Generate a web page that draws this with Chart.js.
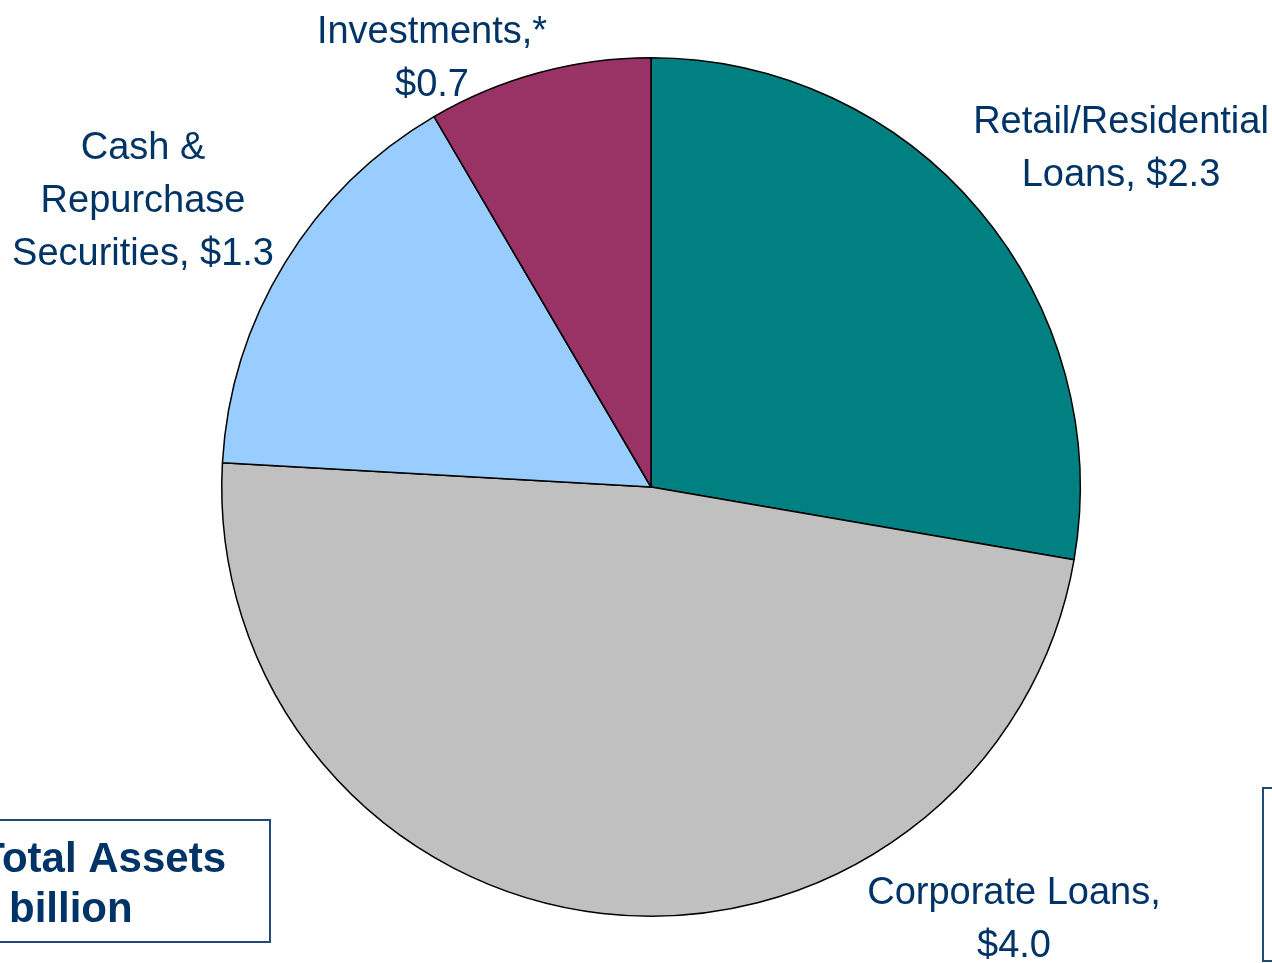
<!DOCTYPE html>
<html>
<head>
<meta charset="utf-8">
<script src="https://cdn.jsdelivr.net/npm/chart.js@4.4.1/dist/chart.umd.min.js"></script>
<style>
  html, body { margin: 0; padding: 0; background: #ffffff; overflow: hidden; }
  #wrap { width: 1272px; height: 963px; position: relative; }
</style>
</head>
<body>
<div id="wrap"><canvas id="assetChart" width="1272" height="963"></canvas></div>
<script>
// Asset mix, $ billions, clockwise from 12 o'clock
const categories = ['Retail/Residential Loans', 'Corporate Loans', 'Cash & Repurchase Securities', 'Investments,*'];
const values = [2.3, 4.0, 1.3, 0.7];
const sliceColors = ['#008080', '#c0c0c0', '#99ccff', '#993366'];

// Label text per slice, {v} is replaced by the formatted value
const labelLines = [
    ['Retail/Residential', 'Loans, {v}'],
    ['Corporate Loans,', '{v}'],
    ['Cash &', 'Repurchase', 'Securities, {v}'],
    ['Investments,*', '{v}']
];
// Centre x and first baseline for each label block
const labelAnchors = [
    { x: 1121, y: 133 },
    { x: 1014, y: 904 },
    { x: 143, y: 159 },
    { x: 432, y: 43 }
];

const textColor = '#003366';
const boxColor = '#1f4a7a';

function formatValue(v) {
    return '$' + v.toFixed(1);
}

const annotations = {
    id: 'annotations',
    afterDraw(chart) {
        const ctx = chart.ctx;
        const data = chart.data.datasets[0].data;
        ctx.save();
        ctx.fillStyle = textColor;
        ctx.textAlign = 'center';
        ctx.textBaseline = 'alphabetic';
        ctx.font = '38px "Liberation Sans", Arial, sans-serif';
        labelLines.forEach((lines, i) => {
            const anchor = labelAnchors[i];
            lines.forEach((line, j) => {
                const text = line.replace('{v}', formatValue(data[i]));
                ctx.fillText(text, anchor.x, anchor.y + j * 53);
            });
        });

        // total assets box, bottom left
        ctx.strokeStyle = boxColor;
        ctx.lineWidth = 2;
        ctx.strokeRect(-40, 820, 310, 122);
        ctx.font = 'bold 42px "Liberation Sans", Arial, sans-serif';
        ctx.textAlign = 'right';
        ctx.fillText('Total Assets', 226, 872);
        ctx.textAlign = 'left';
        ctx.fillText('billion', 9, 922);

        // note box, bottom right
        ctx.strokeRect(1263, 788, 60, 173);
        ctx.restore();
    }
};

const chart = new Chart(document.getElementById('assetChart'), {
    type: 'pie',
    data: {
        labels: categories,
        datasets: [{
            data: values,
            backgroundColor: sliceColors,
            borderColor: '#000000',
            borderWidth: 1.5
        }]
    },
    options: {
        responsive: false,
        animation: false,
        layout: {
            padding: { left: 221, right: 191, top: 57, bottom: 46 }
        },
        plugins: {
            legend: { display: false },
            tooltip: { enabled: false }
        }
    },
    plugins: [annotations]
});
</script>
</body>
</html>
